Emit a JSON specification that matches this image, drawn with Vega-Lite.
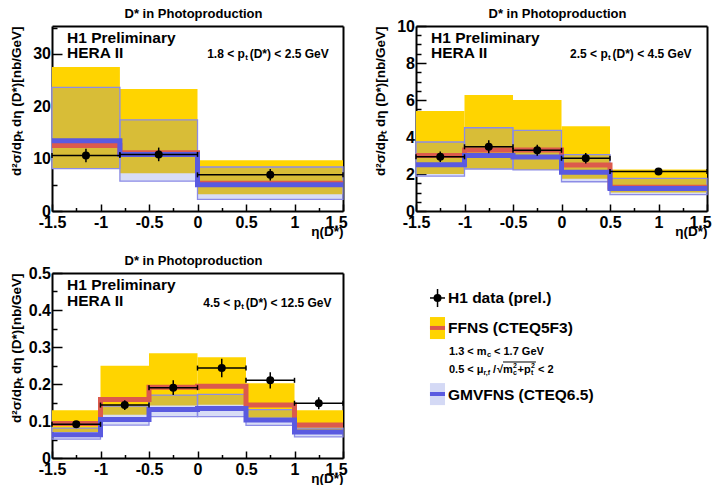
{
"$schema": "https://vega.github.io/schema/vega-lite/v6.json",
"padding": {"left": 9, "top": 8, "right": 0, "bottom": 0},
"columns": 2,
"spacing": {"row": 62, "column": 73},
"bounds": "flush",
"datasets": {
 "p1bins": [
  {"x0": -1.5, "x1": -0.8, "flo": 8.1, "fhi": 27.5, "glo": 8.1, "ghi": 23.6},
  {"x0": -0.8, "x1": 0, "flo": 7.2, "fhi": 23.3, "glo": 5.7, "ghi": 17.4},
  {"x0": 0, "x1": 1.5, "flo": 3.2, "fhi": 9.7, "glo": 2.2, "ghi": 8.4}],
 "p1steps": [
  {"eta": -1.5, "ffns": 12.5, "gm": 13.4},
  {"eta": -0.8, "ffns": 11.1, "gm": 10.8},
  {"eta": 0, "ffns": 5.3, "gm": 5.0},
  {"eta": 1.5, "ffns": 5.3, "gm": 5.0}],
 "p1pts": [
  {"eta": -1.15, "y": 10.6, "ylo": 9.3, "yhi": 11.9, "xlo": -1.5, "xhi": -0.8},
  {"eta": -0.4, "y": 10.8, "ylo": 9.5, "yhi": 12.1, "xlo": -0.8, "xhi": 0},
  {"eta": 0.75, "y": 6.9, "ylo": 5.8, "yhi": 8.0, "xlo": 0, "xhi": 1.5}],
 "p1note": [{"a": "H1 Preliminary", "b": "HERA II", "c": "1.8 < p", "d": "t", "e": "(D*) < 2.5 GeV"}],
 "p2bins": [
  {"x0": -1.5, "x1": -1, "flo": 2.0, "fhi": 5.4, "glo": 1.88, "ghi": 3.73},
  {"x0": -1, "x1": -0.5, "flo": 2.28, "fhi": 6.27, "glo": 2.27, "ghi": 4.5},
  {"x0": -0.5, "x1": 0, "flo": 2.22, "fhi": 6.0, "glo": 2.22, "ghi": 4.36},
  {"x0": 0, "x1": 0.5, "flo": 1.75, "fhi": 4.58, "glo": 1.58, "ghi": 3.05},
  {"x0": 0.5, "x1": 1.5, "flo": 1.0, "fhi": 2.24, "glo": 0.88, "ghi": 1.76}],
 "p2steps": [
  {"eta": -1.5, "ffns": 3.0, "gm": 2.5},
  {"eta": -1, "ffns": 3.3, "gm": 3.0},
  {"eta": -0.5, "ffns": 3.3, "gm": 2.92},
  {"eta": 0, "ffns": 2.48, "gm": 2.09},
  {"eta": 0.5, "ffns": 1.28, "gm": 1.22},
  {"eta": 1.5, "ffns": 1.28, "gm": 1.22}],
 "p2pts": [
  {"eta": -1.25, "y": 2.93, "ylo": 2.65, "yhi": 3.21, "xlo": -1.5, "xhi": -1},
  {"eta": -0.75, "y": 3.47, "ylo": 3.12, "yhi": 3.82, "xlo": -1, "xhi": -0.5},
  {"eta": -0.25, "y": 3.28, "ylo": 2.98, "yhi": 3.58, "xlo": -0.5, "xhi": 0},
  {"eta": 0.25, "y": 2.85, "ylo": 2.57, "yhi": 3.13, "xlo": 0, "xhi": 0.5},
  {"eta": 1.0, "y": 2.14, "ylo": 2.01, "yhi": 2.27, "xlo": 0.5, "xhi": 1.5}],
 "p2note": [{"a": "H1 Preliminary", "b": "HERA II", "c": "2.5 < p", "d": "t", "e": "(D*) < 4.5 GeV"}],
 "p3bins": [
  {"x0": -1.5, "x1": -1, "flo": 0.070, "fhi": 0.129, "glo": 0.051, "ghi": 0.081},
  {"x0": -1, "x1": -0.5, "flo": 0.117, "fhi": 0.249, "glo": 0.089, "ghi": 0.14},
  {"x0": -0.5, "x1": 0, "flo": 0.142, "fhi": 0.283, "glo": 0.112, "ghi": 0.170},
  {"x0": 0, "x1": 0.5, "flo": 0.144, "fhi": 0.272, "glo": 0.112, "ghi": 0.172},
  {"x0": 0.5, "x1": 1, "flo": 0.109, "fhi": 0.202, "glo": 0.088, "ghi": 0.131},
  {"x0": 1, "x1": 1.5, "flo": 0.072, "fhi": 0.129, "glo": 0.057, "ghi": 0.081}],
 "p3steps": [
  {"eta": -1.5, "ffns": 0.093, "gm": 0.063},
  {"eta": -1, "ffns": 0.158, "gm": 0.104},
  {"eta": -0.5, "ffns": 0.191, "gm": 0.131},
  {"eta": 0, "ffns": 0.194, "gm": 0.134},
  {"eta": 0.5, "ffns": 0.143, "gm": 0.103},
  {"eta": 1, "ffns": 0.089, "gm": 0.070},
  {"eta": 1.5, "ffns": 0.089, "gm": 0.070}],
 "p3pts": [
  {"eta": -1.25, "y": 0.091, "ylo": 0.082, "yhi": 0.100, "xlo": -1.5, "xhi": -1},
  {"eta": -0.75, "y": 0.143, "ylo": 0.130, "yhi": 0.156, "xlo": -1, "xhi": -0.5},
  {"eta": -0.25, "y": 0.19, "ylo": 0.17, "yhi": 0.21, "xlo": -0.5, "xhi": 0},
  {"eta": 0.25, "y": 0.243, "ylo": 0.218, "yhi": 0.268, "xlo": 0, "xhi": 0.5},
  {"eta": 0.75, "y": 0.21, "ylo": 0.188, "yhi": 0.232, "xlo": 0.5, "xhi": 1},
  {"eta": 1.25, "y": 0.148, "ylo": 0.132, "yhi": 0.164, "xlo": 1, "xhi": 1.5}],
 "p3note": [{"a": "H1 Preliminary", "b": "HERA II", "c": "4.5 < p", "d": "t", "e": "(D*) < 12.5 GeV"}],
 "legend": [{"l1": "H1 data (prel.)", "l2": "FFNS (CTEQ5F3)", "l3": "GMVFNS (CTEQ6.5)", "m1": "1.3 < m", "m2": "c", "m3": "< 1.7 GeV", "u1": "0.5 < μ", "u2": "r,f", "u3": "/", "u4": "√", "u5": "m", "u6": "c", "u7": "2", "u8": "+p", "u9": "t", "u10": "2", "u11": "< 2"}]
},
"concat": [
 {
  "width": 291, "height": 185,
  "title": {"text": "D* in Photoproduction", "dx": -4, "offset": 5},
  "resolve": {"axis": {"x": "independent", "y": "independent"}},
  "layer": [
   {"data": {"name": "p1bins"}, "mark": {"type": "rect", "color": "#ffd400"},
    "encoding": {
     "x": {"field": "x0", "type": "quantitative", "scale": {"domain": [-1.5, 1.5], "nice": false, "zero": false},
       "axis": {"orient": "bottom", "values": [-1.5, -1, -0.5, 0, 0.5, 1, 1.5], "labelExpr": "toString(datum.value)", "labelOffset": {"condition": {"test": "datum.value === 1.5", "value": -7}, "value": 0}, "tickSize": -7, "labelPadding": 10, "title": "η(D*)", "titleX": 291, "titleY": 24.5, "titleAlign": "right", "titleBaseline": "alphabetic", "titleAngle": 0}},
     "x2": {"field": "x1"},
     "y": {"field": "flo", "type": "quantitative", "scale": {"domain": [0, 35.3], "nice": false, "zero": false},
       "axis": {"orient": "left", "values": [0, 10, 20, 30], "labelExpr": "toString(datum.value)", "tickSize": -10, "labelPadding": 11.5, "title": "d²σ/dpₜ dη (D*)[nb/GeV]", "titleX": -32, "titleY": 0, "titleAlign": "right", "titleBaseline": "alphabetic", "titleAngle": 270}},
     "y2": {"field": "fhi"}}},
   {"data": {"name": "p1bins"}, "mark": {"type": "rect", "fill": "#6478dc", "fillOpacity": 0.25, "stroke": "#8c8ce6", "strokeWidth": 1.3},
    "encoding": {
     "x": {"field": "x0", "type": "quantitative", "scale": {"domain": [-1.5, 1.5], "nice": false, "zero": false},
       "axis": {"orient": "bottom", "values": [-1.25, -0.75, -0.25, 0.25, 0.75, 1.25], "tickSize": -3.5, "labels": false, "domain": false, "title": null}},
     "x2": {"field": "x1"},
     "y": {"field": "glo", "type": "quantitative", "scale": {"domain": [0, 35.3], "nice": false, "zero": false},
       "axis": {"orient": "left", "values": [5, 15, 25, 35], "tickSize": -5, "labels": false, "domain": false, "title": null}},
     "y2": {"field": "ghi"}}},
   {"data": {"name": "p1steps"}, "mark": {"type": "line", "interpolate": "step-after", "color": "#dc5a4c", "strokeWidth": 5, "strokeCap": "butt"},
    "encoding": {
     "x": {"field": "eta", "type": "quantitative", "scale": {"domain": [-1.5, 1.5], "nice": false, "zero": false}, "axis": {"orient": "top", "ticks": false, "labels": false, "title": null}},
     "y": {"field": "ffns", "type": "quantitative", "scale": {"domain": [0, 35.3], "nice": false, "zero": false}, "axis": {"orient": "right", "ticks": false, "labels": false, "title": null}}}},
   {"data": {"name": "p1steps"}, "mark": {"type": "line", "interpolate": "step-after", "color": "#5a5ae0", "strokeWidth": 5, "strokeCap": "butt"},
    "encoding": {
     "x": {"field": "eta", "type": "quantitative", "scale": {"domain": [-1.5, 1.5], "nice": false, "zero": false}, "axis": null},
     "y": {"field": "gm", "type": "quantitative", "scale": {"domain": [0, 35.3], "nice": false, "zero": false}, "axis": null}}},
   {"data": {"name": "p1pts"}, "mark": {"type": "rule", "color": "black", "strokeWidth": 1.5},
    "encoding": {
     "x": {"field": "eta", "type": "quantitative", "scale": {"domain": [-1.5, 1.5], "nice": false, "zero": false}, "axis": null},
     "y": {"field": "ylo", "type": "quantitative", "scale": {"domain": [0, 35.3], "nice": false, "zero": false}, "axis": null},
     "y2": {"field": "yhi"}}},
   {"data": {"name": "p1pts"}, "mark": {"type": "rule", "color": "black", "strokeWidth": 1.5},
    "encoding": {
     "x": {"field": "xlo", "type": "quantitative", "scale": {"domain": [-1.5, 1.5], "nice": false, "zero": false}, "axis": null},
     "x2": {"field": "xhi"},
     "y": {"field": "y", "type": "quantitative", "scale": {"domain": [0, 35.3], "nice": false, "zero": false}, "axis": null}}},
   {"data": {"name": "p1pts"}, "mark": {"type": "point", "shape": "M0,-1L0,1", "size": 25, "color": "black", "strokeWidth": 1.5, "opacity": 1, "filled": false},
    "encoding": {
     "x": {"field": "xlo", "type": "quantitative", "scale": {"domain": [-1.5, 1.5], "nice": false, "zero": false}, "axis": null},
     "y": {"field": "y", "type": "quantitative", "scale": {"domain": [0, 35.3], "nice": false, "zero": false}, "axis": null}}},
   {"data": {"name": "p1pts"}, "mark": {"type": "point", "shape": "M0,-1L0,1", "size": 25, "color": "black", "strokeWidth": 1.5, "opacity": 1, "filled": false},
    "encoding": {
     "x": {"field": "xhi", "type": "quantitative", "scale": {"domain": [-1.5, 1.5], "nice": false, "zero": false}, "axis": null},
     "y": {"field": "y", "type": "quantitative", "scale": {"domain": [0, 35.3], "nice": false, "zero": false}, "axis": null}}},
   {"data": {"name": "p1pts"}, "mark": {"type": "circle", "size": 64, "color": "black", "opacity": 1},
    "encoding": {
     "x": {"field": "eta", "type": "quantitative", "scale": {"domain": [-1.5, 1.5], "nice": false, "zero": false}, "axis": null},
     "y": {"field": "y", "type": "quantitative", "scale": {"domain": [0, 35.3], "nice": false, "zero": false}, "axis": null}}},
   {"data": {"name": "p1note"}, "mark": {"type": "text", "align": "left", "baseline": "middle", "fontSize": 15.5},
    "encoding": {
     "x": {"datum": -1.345, "type": "quantitative", "scale": {"domain": [-1.5, 1.5], "nice": false, "zero": false}, "axis": null},
     "y": {"datum": 33.1, "type": "quantitative", "scale": {"domain": [0, 35.3], "nice": false, "zero": false}, "axis": null},
     "text": {"field": "a"}}},
   {"data": {"name": "p1note"}, "mark": {"type": "text", "align": "left", "baseline": "middle", "fontSize": 15.5},
    "encoding": {
     "x": {"datum": -1.345, "type": "quantitative", "scale": {"domain": [-1.5, 1.5], "nice": false, "zero": false}, "axis": null},
     "y": {"datum": 30.2, "type": "quantitative", "scale": {"domain": [0, 35.3], "nice": false, "zero": false}, "axis": null},
     "text": {"field": "b"}}},
   {"data": {"name": "p1note"}, "mark": {"type": "text", "align": "left", "baseline": "middle", "fontSize": 12},
    "encoding": {
     "x": {"datum": 0.1, "type": "quantitative", "scale": {"domain": [-1.5, 1.5], "nice": false, "zero": false}, "axis": null},
     "y": {"datum": 30.0, "type": "quantitative", "scale": {"domain": [0, 35.3], "nice": false, "zero": false}, "axis": null},
     "text": {"field": "c"}}},
   {"data": {"name": "p1note"}, "mark": {"type": "text", "align": "left", "baseline": "middle", "fontSize": 8, "dx": 38, "dy": 4},
    "encoding": {
     "x": {"datum": 0.1, "type": "quantitative", "scale": {"domain": [-1.5, 1.5], "nice": false, "zero": false}, "axis": null},
     "y": {"datum": 30.0, "type": "quantitative", "scale": {"domain": [0, 35.3], "nice": false, "zero": false}, "axis": null},
     "text": {"field": "d"}}},
   {"data": {"name": "p1note"}, "mark": {"type": "text", "align": "left", "baseline": "middle", "fontSize": 12, "dx": 42.5},
    "encoding": {
     "x": {"datum": 0.1, "type": "quantitative", "scale": {"domain": [-1.5, 1.5], "nice": false, "zero": false}, "axis": null},
     "y": {"datum": 30.0, "type": "quantitative", "scale": {"domain": [0, 35.3], "nice": false, "zero": false}, "axis": null},
     "text": {"field": "e"}}}
  ]
 },
 {
  "width": 291, "height": 185,
  "title": {"text": "D* in Photoproduction", "dx": -4, "offset": -3},
  "resolve": {"axis": {"x": "independent", "y": "independent"}},
  "layer": [
   {"data": {"name": "p2bins"}, "mark": {"type": "rect", "color": "#ffd400"},
    "encoding": {
     "x": {"field": "x0", "type": "quantitative", "scale": {"domain": [-1.5, 1.5], "nice": false, "zero": false},
       "axis": {"orient": "bottom", "values": [-1.5, -1, -0.5, 0, 0.5, 1, 1.5], "labelExpr": "toString(datum.value)", "labelOffset": {"condition": {"test": "datum.value === 1.5", "value": -7}, "value": 0}, "tickSize": -7, "labelPadding": 10, "title": "η(D*)", "titleX": 291, "titleY": 24.5, "titleAlign": "right", "titleBaseline": "alphabetic", "titleAngle": 0}},
     "x2": {"field": "x1"},
     "y": {"field": "flo", "type": "quantitative", "scale": {"domain": [0, 10], "nice": false, "zero": false},
       "axis": {"orient": "left", "values": [0, 2, 4, 6, 8, 10], "labelExpr": "toString(datum.value)", "tickSize": -10, "labelPadding": 11.5, "title": "d²σ/dpₜ dη (D*)[nb/GeV]", "titleX": -32, "titleY": 0, "titleAlign": "right", "titleBaseline": "alphabetic", "titleAngle": 270}},
     "y2": {"field": "fhi"}}},
   {"data": {"name": "p2bins"}, "mark": {"type": "rect", "fill": "#6478dc", "fillOpacity": 0.25, "stroke": "#8c8ce6", "strokeWidth": 1.3},
    "encoding": {
     "x": {"field": "x0", "type": "quantitative", "scale": {"domain": [-1.5, 1.5], "nice": false, "zero": false},
       "axis": {"orient": "bottom", "values": [-1.25, -0.75, -0.25, 0.25, 0.75, 1.25], "tickSize": -3.5, "labels": false, "domain": false, "title": null}},
     "x2": {"field": "x1"},
     "y": {"field": "glo", "type": "quantitative", "scale": {"domain": [0, 10], "nice": false, "zero": false},
       "axis": {"orient": "left", "values": [0.5, 1, 1.5, 2.5, 3, 3.5, 4.5, 5, 5.5, 6.5, 7, 7.5, 8.5, 9, 9.5], "tickSize": -5, "labels": false, "domain": false, "title": null}},
     "y2": {"field": "ghi"}}},
   {"data": {"name": "p2steps"}, "mark": {"type": "line", "interpolate": "step-after", "color": "#dc5a4c", "strokeWidth": 5, "strokeCap": "butt"},
    "encoding": {
     "x": {"field": "eta", "type": "quantitative", "scale": {"domain": [-1.5, 1.5], "nice": false, "zero": false}, "axis": {"orient": "top", "ticks": false, "labels": false, "title": null}},
     "y": {"field": "ffns", "type": "quantitative", "scale": {"domain": [0, 10], "nice": false, "zero": false}, "axis": {"orient": "right", "ticks": false, "labels": false, "title": null}}}},
   {"data": {"name": "p2steps"}, "mark": {"type": "line", "interpolate": "step-after", "color": "#5a5ae0", "strokeWidth": 5, "strokeCap": "butt"},
    "encoding": {
     "x": {"field": "eta", "type": "quantitative", "scale": {"domain": [-1.5, 1.5], "nice": false, "zero": false}, "axis": null},
     "y": {"field": "gm", "type": "quantitative", "scale": {"domain": [0, 10], "nice": false, "zero": false}, "axis": null}}},
   {"data": {"name": "p2pts"}, "mark": {"type": "rule", "color": "black", "strokeWidth": 1.5},
    "encoding": {
     "x": {"field": "eta", "type": "quantitative", "scale": {"domain": [-1.5, 1.5], "nice": false, "zero": false}, "axis": null},
     "y": {"field": "ylo", "type": "quantitative", "scale": {"domain": [0, 10], "nice": false, "zero": false}, "axis": null},
     "y2": {"field": "yhi"}}},
   {"data": {"name": "p2pts"}, "mark": {"type": "rule", "color": "black", "strokeWidth": 1.5},
    "encoding": {
     "x": {"field": "xlo", "type": "quantitative", "scale": {"domain": [-1.5, 1.5], "nice": false, "zero": false}, "axis": null},
     "x2": {"field": "xhi"},
     "y": {"field": "y", "type": "quantitative", "scale": {"domain": [0, 10], "nice": false, "zero": false}, "axis": null}}},
   {"data": {"name": "p2pts"}, "mark": {"type": "point", "shape": "M0,-1L0,1", "size": 25, "color": "black", "strokeWidth": 1.5, "opacity": 1, "filled": false},
    "encoding": {
     "x": {"field": "xlo", "type": "quantitative", "scale": {"domain": [-1.5, 1.5], "nice": false, "zero": false}, "axis": null},
     "y": {"field": "y", "type": "quantitative", "scale": {"domain": [0, 10], "nice": false, "zero": false}, "axis": null}}},
   {"data": {"name": "p2pts"}, "mark": {"type": "point", "shape": "M0,-1L0,1", "size": 25, "color": "black", "strokeWidth": 1.5, "opacity": 1, "filled": false},
    "encoding": {
     "x": {"field": "xhi", "type": "quantitative", "scale": {"domain": [-1.5, 1.5], "nice": false, "zero": false}, "axis": null},
     "y": {"field": "y", "type": "quantitative", "scale": {"domain": [0, 10], "nice": false, "zero": false}, "axis": null}}},
   {"data": {"name": "p2pts"}, "mark": {"type": "circle", "size": 64, "color": "black", "opacity": 1},
    "encoding": {
     "x": {"field": "eta", "type": "quantitative", "scale": {"domain": [-1.5, 1.5], "nice": false, "zero": false}, "axis": null},
     "y": {"field": "y", "type": "quantitative", "scale": {"domain": [0, 10], "nice": false, "zero": false}, "axis": null}}},
   {"data": {"name": "p2note"}, "mark": {"type": "text", "align": "left", "baseline": "middle", "fontSize": 15.5},
    "encoding": {
     "x": {"datum": -1.345, "type": "quantitative", "scale": {"domain": [-1.5, 1.5], "nice": false, "zero": false}, "axis": null},
     "y": {"datum": 9.35, "type": "quantitative", "scale": {"domain": [0, 10], "nice": false, "zero": false}, "axis": null},
     "text": {"field": "a"}}},
   {"data": {"name": "p2note"}, "mark": {"type": "text", "align": "left", "baseline": "middle", "fontSize": 15.5},
    "encoding": {
     "x": {"datum": -1.345, "type": "quantitative", "scale": {"domain": [-1.5, 1.5], "nice": false, "zero": false}, "axis": null},
     "y": {"datum": 8.54, "type": "quantitative", "scale": {"domain": [0, 10], "nice": false, "zero": false}, "axis": null},
     "text": {"field": "b"}}},
   {"data": {"name": "p2note"}, "mark": {"type": "text", "align": "left", "baseline": "middle", "fontSize": 12},
    "encoding": {
     "x": {"datum": 0.088, "type": "quantitative", "scale": {"domain": [-1.5, 1.5], "nice": false, "zero": false}, "axis": null},
     "y": {"datum": 8.49, "type": "quantitative", "scale": {"domain": [0, 10], "nice": false, "zero": false}, "axis": null},
     "text": {"field": "c"}}},
   {"data": {"name": "p2note"}, "mark": {"type": "text", "align": "left", "baseline": "middle", "fontSize": 8, "dx": 38, "dy": 4},
    "encoding": {
     "x": {"datum": 0.088, "type": "quantitative", "scale": {"domain": [-1.5, 1.5], "nice": false, "zero": false}, "axis": null},
     "y": {"datum": 8.49, "type": "quantitative", "scale": {"domain": [0, 10], "nice": false, "zero": false}, "axis": null},
     "text": {"field": "d"}}},
   {"data": {"name": "p2note"}, "mark": {"type": "text", "align": "left", "baseline": "middle", "fontSize": 12, "dx": 42.5},
    "encoding": {
     "x": {"datum": 0.088, "type": "quantitative", "scale": {"domain": [-1.5, 1.5], "nice": false, "zero": false}, "axis": null},
     "y": {"datum": 8.49, "type": "quantitative", "scale": {"domain": [0, 10], "nice": false, "zero": false}, "axis": null},
     "text": {"field": "e"}}}
  ]
 },
 {
  "width": 291, "height": 185,
  "title": {"text": "D* in Photoproduction", "dx": -4, "offset": -3},
  "resolve": {"axis": {"x": "independent", "y": "independent"}},
  "layer": [
   {"data": {"name": "p3bins"}, "mark": {"type": "rect", "color": "#ffd400"},
    "encoding": {
     "x": {"field": "x0", "type": "quantitative", "scale": {"domain": [-1.5, 1.5], "nice": false, "zero": false},
       "axis": {"orient": "bottom", "values": [-1.5, -1, -0.5, 0, 0.5, 1, 1.5], "labelExpr": "toString(datum.value)", "labelOffset": {"condition": {"test": "datum.value === 1.5", "value": -7}, "value": 0}, "tickSize": -7, "labelPadding": 10, "title": "η(D*)", "titleX": 291, "titleY": 24.5, "titleAlign": "right", "titleBaseline": "alphabetic", "titleAngle": 0}},
     "x2": {"field": "x1"},
     "y": {"field": "flo", "type": "quantitative", "scale": {"domain": [0, 0.5], "nice": false, "zero": false},
       "axis": {"orient": "left", "values": [0, 0.1, 0.2, 0.3, 0.4, 0.5], "labelExpr": "toString(datum.value)", "tickSize": -10, "labelPadding": 11.5, "title": "d²σ/dpₜ dη (D*)[nb/GeV]", "titleX": -32, "titleY": 0, "titleAlign": "right", "titleBaseline": "alphabetic", "titleAngle": 270}},
     "y2": {"field": "fhi"}}},
   {"data": {"name": "p3bins"}, "mark": {"type": "rect", "fill": "#6478dc", "fillOpacity": 0.25, "stroke": "#8c8ce6", "strokeWidth": 1.3},
    "encoding": {
     "x": {"field": "x0", "type": "quantitative", "scale": {"domain": [-1.5, 1.5], "nice": false, "zero": false},
       "axis": {"orient": "bottom", "values": [-1.25, -0.75, -0.25, 0.25, 0.75, 1.25], "tickSize": -3.5, "labels": false, "domain": false, "title": null}},
     "x2": {"field": "x1"},
     "y": {"field": "glo", "type": "quantitative", "scale": {"domain": [0, 0.5], "nice": false, "zero": false},
       "axis": {"orient": "left", "values": [0.05, 0.15, 0.25, 0.35, 0.45], "tickSize": -5, "labels": false, "domain": false, "title": null}},
     "y2": {"field": "ghi"}}},
   {"data": {"name": "p3steps"}, "mark": {"type": "line", "interpolate": "step-after", "color": "#dc5a4c", "strokeWidth": 5, "strokeCap": "butt"},
    "encoding": {
     "x": {"field": "eta", "type": "quantitative", "scale": {"domain": [-1.5, 1.5], "nice": false, "zero": false}, "axis": {"orient": "top", "ticks": false, "labels": false, "title": null}},
     "y": {"field": "ffns", "type": "quantitative", "scale": {"domain": [0, 0.5], "nice": false, "zero": false}, "axis": {"orient": "right", "ticks": false, "labels": false, "title": null}}}},
   {"data": {"name": "p3steps"}, "mark": {"type": "line", "interpolate": "step-after", "color": "#5a5ae0", "strokeWidth": 5, "strokeCap": "butt"},
    "encoding": {
     "x": {"field": "eta", "type": "quantitative", "scale": {"domain": [-1.5, 1.5], "nice": false, "zero": false}, "axis": null},
     "y": {"field": "gm", "type": "quantitative", "scale": {"domain": [0, 0.5], "nice": false, "zero": false}, "axis": null}}},
   {"data": {"name": "p3pts"}, "mark": {"type": "rule", "color": "black", "strokeWidth": 1.5},
    "encoding": {
     "x": {"field": "eta", "type": "quantitative", "scale": {"domain": [-1.5, 1.5], "nice": false, "zero": false}, "axis": null},
     "y": {"field": "ylo", "type": "quantitative", "scale": {"domain": [0, 0.5], "nice": false, "zero": false}, "axis": null},
     "y2": {"field": "yhi"}}},
   {"data": {"name": "p3pts"}, "mark": {"type": "rule", "color": "black", "strokeWidth": 1.5},
    "encoding": {
     "x": {"field": "xlo", "type": "quantitative", "scale": {"domain": [-1.5, 1.5], "nice": false, "zero": false}, "axis": null},
     "x2": {"field": "xhi"},
     "y": {"field": "y", "type": "quantitative", "scale": {"domain": [0, 0.5], "nice": false, "zero": false}, "axis": null}}},
   {"data": {"name": "p3pts"}, "mark": {"type": "point", "shape": "M0,-1L0,1", "size": 25, "color": "black", "strokeWidth": 1.5, "opacity": 1, "filled": false},
    "encoding": {
     "x": {"field": "xlo", "type": "quantitative", "scale": {"domain": [-1.5, 1.5], "nice": false, "zero": false}, "axis": null},
     "y": {"field": "y", "type": "quantitative", "scale": {"domain": [0, 0.5], "nice": false, "zero": false}, "axis": null}}},
   {"data": {"name": "p3pts"}, "mark": {"type": "point", "shape": "M0,-1L0,1", "size": 25, "color": "black", "strokeWidth": 1.5, "opacity": 1, "filled": false},
    "encoding": {
     "x": {"field": "xhi", "type": "quantitative", "scale": {"domain": [-1.5, 1.5], "nice": false, "zero": false}, "axis": null},
     "y": {"field": "y", "type": "quantitative", "scale": {"domain": [0, 0.5], "nice": false, "zero": false}, "axis": null}}},
   {"data": {"name": "p3pts"}, "mark": {"type": "circle", "size": 64, "color": "black", "opacity": 1},
    "encoding": {
     "x": {"field": "eta", "type": "quantitative", "scale": {"domain": [-1.5, 1.5], "nice": false, "zero": false}, "axis": null},
     "y": {"field": "y", "type": "quantitative", "scale": {"domain": [0, 0.5], "nice": false, "zero": false}, "axis": null}}},
   {"data": {"name": "p3note"}, "mark": {"type": "text", "align": "left", "baseline": "middle", "fontSize": 15.5},
    "encoding": {
     "x": {"datum": -1.345, "type": "quantitative", "scale": {"domain": [-1.5, 1.5], "nice": false, "zero": false}, "axis": null},
     "y": {"datum": 0.467, "type": "quantitative", "scale": {"domain": [0, 0.5], "nice": false, "zero": false}, "axis": null},
     "text": {"field": "a"}}},
   {"data": {"name": "p3note"}, "mark": {"type": "text", "align": "left", "baseline": "middle", "fontSize": 15.5},
    "encoding": {
     "x": {"datum": -1.345, "type": "quantitative", "scale": {"domain": [-1.5, 1.5], "nice": false, "zero": false}, "axis": null},
     "y": {"datum": 0.424, "type": "quantitative", "scale": {"domain": [0, 0.5], "nice": false, "zero": false}, "axis": null},
     "text": {"field": "b"}}},
   {"data": {"name": "p3note"}, "mark": {"type": "text", "align": "left", "baseline": "middle", "fontSize": 12},
    "encoding": {
     "x": {"datum": 0.06, "type": "quantitative", "scale": {"domain": [-1.5, 1.5], "nice": false, "zero": false}, "axis": null},
     "y": {"datum": 0.42, "type": "quantitative", "scale": {"domain": [0, 0.5], "nice": false, "zero": false}, "axis": null},
     "text": {"field": "c"}}},
   {"data": {"name": "p3note"}, "mark": {"type": "text", "align": "left", "baseline": "middle", "fontSize": 8, "dx": 38, "dy": 4},
    "encoding": {
     "x": {"datum": 0.06, "type": "quantitative", "scale": {"domain": [-1.5, 1.5], "nice": false, "zero": false}, "axis": null},
     "y": {"datum": 0.42, "type": "quantitative", "scale": {"domain": [0, 0.5], "nice": false, "zero": false}, "axis": null},
     "text": {"field": "d"}}},
   {"data": {"name": "p3note"}, "mark": {"type": "text", "align": "left", "baseline": "middle", "fontSize": 12, "dx": 42.5},
    "encoding": {
     "x": {"datum": 0.06, "type": "quantitative", "scale": {"domain": [-1.5, 1.5], "nice": false, "zero": false}, "axis": null},
     "y": {"datum": 0.42, "type": "quantitative", "scale": {"domain": [0, 0.5], "nice": false, "zero": false}, "axis": null},
     "text": {"field": "e"}}}
  ]
 },
 {
  "width": 291, "height": 185,
  "data": {"name": "legend"},
  "layer": [
   {"mark": {"type": "rule", "color": "black", "strokeWidth": 1.5},
    "encoding": {"x": {"datum": 0.048, "type": "quantitative", "scale": {"domain": [0, 1], "nice": false, "zero": false}, "axis": null}, "x2": {"datum": 0.0997},
     "y": {"datum": 0.135, "type": "quantitative", "scale": {"domain": [0, 1], "nice": false, "zero": false, "reverse": true}, "axis": null}}},
   {"mark": {"type": "rule", "color": "black", "strokeWidth": 1.5},
    "encoding": {"x": {"datum": 0.074, "type": "quantitative", "scale": {"domain": [0, 1], "nice": false, "zero": false}, "axis": null},
     "y": {"datum": 0.0865, "type": "quantitative", "scale": {"domain": [0, 1], "nice": false, "zero": false, "reverse": true}, "axis": null}, "y2": {"datum": 0.184}}},
   {"mark": {"type": "circle", "size": 64, "color": "black", "opacity": 1},
    "encoding": {"x": {"datum": 0.074, "type": "quantitative", "scale": {"domain": [0, 1], "nice": false, "zero": false}, "axis": null},
     "y": {"datum": 0.135, "type": "quantitative", "scale": {"domain": [0, 1], "nice": false, "zero": false, "reverse": true}, "axis": null}}},
   {"mark": {"type": "text", "align": "left", "baseline": "middle", "fontSize": 15.5},
    "encoding": {"x": {"datum": 0.110, "type": "quantitative", "scale": {"domain": [0, 1], "nice": false, "zero": false}, "axis": null},
     "y": {"datum": 0.135, "type": "quantitative", "scale": {"domain": [0, 1], "nice": false, "zero": false, "reverse": true}, "axis": null}, "text": {"field": "l1"}}},
   {"mark": {"type": "rect", "color": "#ffd400"},
    "encoding": {"x": {"datum": 0.048, "type": "quantitative", "scale": {"domain": [0, 1], "nice": false, "zero": false}, "axis": null}, "x2": {"datum": 0.0997},
     "y": {"datum": 0.238, "type": "quantitative", "scale": {"domain": [0, 1], "nice": false, "zero": false, "reverse": true}, "axis": null}, "y2": {"datum": 0.357}}},
   {"mark": {"type": "rule", "color": "#dc5a4c", "strokeWidth": 4},
    "encoding": {"x": {"datum": 0.048, "type": "quantitative", "scale": {"domain": [0, 1], "nice": false, "zero": false}, "axis": null}, "x2": {"datum": 0.0997},
     "y": {"datum": 0.297, "type": "quantitative", "scale": {"domain": [0, 1], "nice": false, "zero": false, "reverse": true}, "axis": null}}},
   {"mark": {"type": "text", "align": "left", "baseline": "middle", "fontSize": 15.5},
    "encoding": {"x": {"datum": 0.110, "type": "quantitative", "scale": {"domain": [0, 1], "nice": false, "zero": false}, "axis": null},
     "y": {"datum": 0.297, "type": "quantitative", "scale": {"domain": [0, 1], "nice": false, "zero": false, "reverse": true}, "axis": null}, "text": {"field": "l2"}}},
   {"mark": {"type": "text", "align": "left", "baseline": "middle", "fontSize": 11},
    "encoding": {"x": {"datum": 0.1134, "type": "quantitative", "scale": {"domain": [0, 1], "nice": false, "zero": false}, "axis": null},
     "y": {"datum": 0.427, "type": "quantitative", "scale": {"domain": [0, 1], "nice": false, "zero": false, "reverse": true}, "axis": null}, "text": {"field": "m1"}}},
   {"mark": {"type": "text", "align": "left", "baseline": "middle", "fontSize": 7.5, "dx": 38, "dy": 3},
    "encoding": {"x": {"datum": 0.1134, "type": "quantitative", "scale": {"domain": [0, 1], "nice": false, "zero": false}, "axis": null},
     "y": {"datum": 0.427, "type": "quantitative", "scale": {"domain": [0, 1], "nice": false, "zero": false, "reverse": true}, "axis": null}, "text": {"field": "m2"}}},
   {"mark": {"type": "text", "align": "left", "baseline": "middle", "fontSize": 11, "dx": 45},
    "encoding": {"x": {"datum": 0.1134, "type": "quantitative", "scale": {"domain": [0, 1], "nice": false, "zero": false}, "axis": null},
     "y": {"datum": 0.427, "type": "quantitative", "scale": {"domain": [0, 1], "nice": false, "zero": false, "reverse": true}, "axis": null}, "text": {"field": "m3"}}},
   {"mark": {"type": "text", "align": "left", "baseline": "middle", "fontSize": 11},
    "encoding": {"x": {"datum": 0.1134, "type": "quantitative", "scale": {"domain": [0, 1], "nice": false, "zero": false}, "axis": null},
     "y": {"datum": 0.524, "type": "quantitative", "scale": {"domain": [0, 1], "nice": false, "zero": false, "reverse": true}, "axis": null}, "text": {"field": "u1"}}},
   {"mark": {"type": "text", "align": "left", "baseline": "middle", "fontSize": 7, "dx": 34.5, "dy": 3.5},
    "encoding": {"x": {"datum": 0.1134, "type": "quantitative", "scale": {"domain": [0, 1], "nice": false, "zero": false}, "axis": null},
     "y": {"datum": 0.524, "type": "quantitative", "scale": {"domain": [0, 1], "nice": false, "zero": false, "reverse": true}, "axis": null}, "text": {"field": "u2"}}},
   {"mark": {"type": "text", "align": "left", "baseline": "middle", "fontSize": 11, "dx": 44},
    "encoding": {"x": {"datum": 0.1134, "type": "quantitative", "scale": {"domain": [0, 1], "nice": false, "zero": false}, "axis": null},
     "y": {"datum": 0.524, "type": "quantitative", "scale": {"domain": [0, 1], "nice": false, "zero": false, "reverse": true}, "axis": null}, "text": {"field": "u3"}}},
   {"mark": {"type": "text", "align": "left", "baseline": "middle", "fontSize": 11, "dx": 48},
    "encoding": {"x": {"datum": 0.1134, "type": "quantitative", "scale": {"domain": [0, 1], "nice": false, "zero": false}, "axis": null},
     "y": {"datum": 0.524, "type": "quantitative", "scale": {"domain": [0, 1], "nice": false, "zero": false, "reverse": true}, "axis": null}, "text": {"field": "u4"}}},
   {"mark": {"type": "text", "align": "left", "baseline": "middle", "fontSize": 11, "dx": 54},
    "encoding": {"x": {"datum": 0.1134, "type": "quantitative", "scale": {"domain": [0, 1], "nice": false, "zero": false}, "axis": null},
     "y": {"datum": 0.524, "type": "quantitative", "scale": {"domain": [0, 1], "nice": false, "zero": false, "reverse": true}, "axis": null}, "text": {"field": "u5"}}},
   {"mark": {"type": "text", "align": "left", "baseline": "middle", "fontSize": 7, "dx": 64, "dy": 3},
    "encoding": {"x": {"datum": 0.1134, "type": "quantitative", "scale": {"domain": [0, 1], "nice": false, "zero": false}, "axis": null},
     "y": {"datum": 0.524, "type": "quantitative", "scale": {"domain": [0, 1], "nice": false, "zero": false, "reverse": true}, "axis": null}, "text": {"field": "u6"}}},
   {"mark": {"type": "text", "align": "left", "baseline": "middle", "fontSize": 7, "dx": 64, "dy": -4},
    "encoding": {"x": {"datum": 0.1134, "type": "quantitative", "scale": {"domain": [0, 1], "nice": false, "zero": false}, "axis": null},
     "y": {"datum": 0.524, "type": "quantitative", "scale": {"domain": [0, 1], "nice": false, "zero": false, "reverse": true}, "axis": null}, "text": {"field": "u7"}}},
   {"mark": {"type": "text", "align": "left", "baseline": "middle", "fontSize": 11, "dx": 68.5},
    "encoding": {"x": {"datum": 0.1134, "type": "quantitative", "scale": {"domain": [0, 1], "nice": false, "zero": false}, "axis": null},
     "y": {"datum": 0.524, "type": "quantitative", "scale": {"domain": [0, 1], "nice": false, "zero": false, "reverse": true}, "axis": null}, "text": {"field": "u8"}}},
   {"mark": {"type": "text", "align": "left", "baseline": "middle", "fontSize": 7, "dx": 82, "dy": 3},
    "encoding": {"x": {"datum": 0.1134, "type": "quantitative", "scale": {"domain": [0, 1], "nice": false, "zero": false}, "axis": null},
     "y": {"datum": 0.524, "type": "quantitative", "scale": {"domain": [0, 1], "nice": false, "zero": false, "reverse": true}, "axis": null}, "text": {"field": "u9"}}},
   {"mark": {"type": "text", "align": "left", "baseline": "middle", "fontSize": 7, "dx": 82, "dy": -4},
    "encoding": {"x": {"datum": 0.1134, "type": "quantitative", "scale": {"domain": [0, 1], "nice": false, "zero": false}, "axis": null},
     "y": {"datum": 0.524, "type": "quantitative", "scale": {"domain": [0, 1], "nice": false, "zero": false, "reverse": true}, "axis": null}, "text": {"field": "u10"}}},
   {"mark": {"type": "text", "align": "left", "baseline": "middle", "fontSize": 11, "dx": 89},
    "encoding": {"x": {"datum": 0.1134, "type": "quantitative", "scale": {"domain": [0, 1], "nice": false, "zero": false}, "axis": null},
     "y": {"datum": 0.524, "type": "quantitative", "scale": {"domain": [0, 1], "nice": false, "zero": false, "reverse": true}, "axis": null}, "text": {"field": "u11"}}},
   {"mark": {"type": "rule", "color": "black", "strokeWidth": 1},
    "encoding": {"x": {"datum": 0.299, "type": "quantitative", "scale": {"domain": [0, 1], "nice": false, "zero": false}, "axis": null}, "x2": {"datum": 0.412},
     "y": {"datum": 0.481, "type": "quantitative", "scale": {"domain": [0, 1], "nice": false, "zero": false, "reverse": true}, "axis": null}}},
   {"mark": {"type": "rect", "fill": "#6478dc", "fillOpacity": 0.28},
    "encoding": {"x": {"datum": 0.048, "type": "quantitative", "scale": {"domain": [0, 1], "nice": false, "zero": false}, "axis": null}, "x2": {"datum": 0.0997},
     "y": {"datum": 0.595, "type": "quantitative", "scale": {"domain": [0, 1], "nice": false, "zero": false, "reverse": true}, "axis": null}, "y2": {"datum": 0.714}}},
   {"mark": {"type": "rule", "color": "#5a5ae0", "strokeWidth": 4},
    "encoding": {"x": {"datum": 0.048, "type": "quantitative", "scale": {"domain": [0, 1], "nice": false, "zero": false}, "axis": null}, "x2": {"datum": 0.0997},
     "y": {"datum": 0.654, "type": "quantitative", "scale": {"domain": [0, 1], "nice": false, "zero": false, "reverse": true}, "axis": null}}},
   {"mark": {"type": "text", "align": "left", "baseline": "middle", "fontSize": 15.5},
    "encoding": {"x": {"datum": 0.110, "type": "quantitative", "scale": {"domain": [0, 1], "nice": false, "zero": false}, "axis": null},
     "y": {"datum": 0.659, "type": "quantitative", "scale": {"domain": [0, 1], "nice": false, "zero": false, "reverse": true}, "axis": null}, "text": {"field": "l3"}}}
  ]
 }
],
"config": {
 "font": "Liberation Sans",
 "view": {"stroke": null},
 "axis": {"zindex": 1, "grid": false, "domainColor": "black", "domainWidth": 2, "tickColor": "black", "tickWidth": 1.5,
   "labelFont": "Liberation Sans", "labelFontWeight": "bold", "labelFontSize": 16, "labelColor": "black", "labelFlush": false, "labelOverlap": false,
   "titleFont": "Liberation Sans", "titleFontWeight": "bold", "titleFontSize": 13.5, "titleColor": "black"},
 "title": {"font": "Liberation Sans", "fontSize": 13, "fontWeight": "bold", "color": "black"},
 "text": {"font": "Liberation Sans", "fontWeight": "bold", "color": "black"}
}
}
